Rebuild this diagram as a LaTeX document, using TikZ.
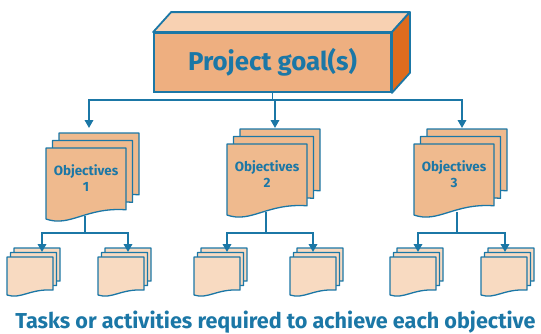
\documentclass[tikz,border=0pt]{standalone}
\usepackage{fontspec}
\setmainfont{Fira Sans}
\usetikzlibrary{arrows.meta}

\definecolor{lineblue}{HTML}{1B77A6}
\definecolor{goaltop}{HTML}{F8D1B2}
\definecolor{goalfront}{HTML}{EEAF80}
\definecolor{goalside}{HTML}{DE6C1E}
\definecolor{objfill}{HTML}{EFBA8E}
\definecolor{taskfill}{HTML}{F8DAC1}

% one sheet with a wavy lower edge: left, top, width, height, fill
\newcommand{\docsheet}[5]{%
  \filldraw[sheetline, fill=#5] (#1,#2) -- ({#1+#3},#2) -- ({#1+#3},{#2+0.87*#4})
    .. controls ({#1+0.5*#3},{#2+0.83*#4}) and ({#1+0.3*#3},{#2+1.12*#4}) .. (#1,{#2+#4}) -- cycle;}

\begin{document}
\begin{tikzpicture}[x=1pt,y=-1pt,
    sheetline/.style={draw=lineblue, line width=1.3pt, line join=round},
    link/.style={draw=lineblue, line width=1.8pt},
    tip/.style={-{Triangle[width=8.5pt,length=8pt]}},
    goalbox/.style={draw=lineblue, line width=1.8pt, fill=goalfront, minimum width=237pt,
        minimum height=59pt, inner sep=0pt, text=lineblue, font=\fontsize{25.8}{26}\selectfont\bfseries},
    objtext/.style={text=lineblue, font=\fontsize{13.4}{16}\selectfont\bfseries, align=center},
    caption/.style={text=lineblue, font=\fontsize{21.6}{22}\selectfont\bfseries}]
    \useasboundingbox (0,0) rectangle (541,333);

    % GOAL BLOCK
    \node[goalbox] (goal) at (272.5,62.5) {Project goal(s)};
    \filldraw[draw=lineblue, line width=1.8pt, line join=round, fill=goaltop]
        (goal.north west) -- ++(18,-20) -- ([shift={(18,-20)}]goal.north east) -- (goal.north east) -- cycle;
    \filldraw[draw=lineblue, line width=1.8pt, line join=round, fill=goalside]
        (goal.north east) -- ++(18,-20) -- ([shift={(18,-20)}]goal.south east) -- (goal.south east) -- cycle;

    % OBJECTIVES AND TASKS
    \foreach \n/\fx/\fy/\ax/\vx/\la/\lx/\ra/\rx in
        {1/46/148/89/85/42/7/128/98, 2/227/144/275/266/227/194/313/290, 3/414/144/462/457/418/390/505/481}
    {
        \docsheet{\fx+13}{\fy-15}{80}{71}{objfill}
        \docsheet{\fx+6.5}{\fy-7.5}{80}{71}{objfill}
        \docsheet{\fx}{\fy}{80}{71}{objfill}
        \node[objtext] (obj\n) at (\fx+40,\fy+30.5) {Objectives\\\n};

        \foreach \tx in {\lx,\rx}
        {
            \docsheet{\tx+7}{248}{46}{38}{taskfill}
            \docsheet{\tx+3.5}{252.5}{46}{38}{taskfill}
            \docsheet{\tx}{257}{46}{38}{taskfill}
        }

        \coordinate (in\n) at (\ax,128);
        \coordinate (out\n) at (\vx,\fy+68);
        \coordinate (tb\n) at (\vx,233);
        \coordinate (tl\n) at (\la,252);
        \coordinate (tr\n) at (\ra,252);
        \draw[link] (out\n) -- (tb\n);
        \draw[link,tip] (tb\n) -- (tl\n |- tb\n) -- (tl\n);
        \draw[link,tip] (tb\n) -- (tr\n |- tb\n) -- (tr\n);
    }

    % GOAL TO OBJECTIVES
    \coordinate (bus) at (276,100);
    \draw[link] (goal.south) -- (goal.south |- bus);
    \foreach \n in {1,2,3}
        \draw[link,tip] (goal.south |- bus) -- (in\n |- bus) -- (in\n);

    \node[caption, anchor=base] (tasks) at (275.5,328) {Tasks or activities required to achieve each objective};
\end{tikzpicture}
\end{document}
